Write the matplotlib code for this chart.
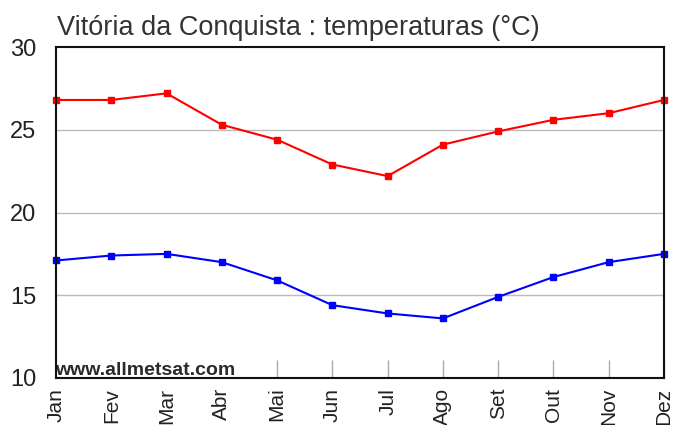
import matplotlib
matplotlib.use('agg')
import matplotlib.pyplot as plt

months = ['Jan', 'Fev', 'Mar', 'Abr', 'Mai', 'Jun', 'Jul', 'Ago', 'Set', 'Out', 'Nov', 'Dez']
t_max = [26.8, 26.8, 27.2, 25.3, 24.4, 22.9, 22.2, 24.1, 24.9, 25.6, 26.0, 26.8]
t_min = [17.1, 17.4, 17.5, 17.0, 15.9, 14.4, 13.9, 13.6, 14.9, 16.1, 17.0, 17.5]
y_ticks = [10, 15, 20, 25, 30]

plt.rcParams['font.family'] = ['Liberation Sans', 'DejaVu Sans']

fig = plt.figure(figsize=(6.75, 4.25), dpi=100)
ax = fig.add_axes([56 / 675, 47 / 425, 608 / 675, 331 / 425])

x = list(range(len(months)))
for yv in y_ticks[1:-1]:
    ax.axhline(yv, color='#bbbbbb', lw=1, zorder=1)

ax.plot(x, t_max, color='#ff0000', lw=1.5, marker='s', ms=4.5, zorder=3, clip_on=False)
ax.plot(x, t_min, color='#0000ff', lw=1.5, marker='s', ms=4.5, zorder=3, clip_on=False)

ax.set_xlim(0, len(months) - 1)
ax.set_ylim(10, 30)
ax.set_yticks(y_ticks)
ax.set_yticklabels([str(v) for v in y_ticks], fontsize=17, color='#222222')
ax.tick_params(axis='y', length=0, pad=14)

ax.set_xticks(x)
ax.set_xticklabels(months, rotation=90, fontsize=15, color='#222222', va='top')
ax.tick_params(axis='x', direction='in', length=13, color='#aaaaaa', width=1, pad=7)

for s in ax.spines.values():
    s.set_color('#111111')
    s.set_linewidth(1.5)
    s.set_zorder(5)

# watermark sits on a white box, hiding the first ticks
ax.annotate('www.allmetsat.com', xy=(0, 0), xycoords='axes fraction',
            xytext=(-1, -1), textcoords='offset points',
            fontsize=14, fontweight='bold', color='#2a2a2a', ha='left', va='bottom', zorder=4,
            bbox=dict(facecolor='white', edgecolor='none', pad=1))

fig.text(57 / 675, 1 - 28 / 425, 'Vitória da Conquista : temperaturas (°C)',
         fontsize=19.5, color='#333333', ha='left', va='center')

fig.savefig('out.png', dpi=100)
